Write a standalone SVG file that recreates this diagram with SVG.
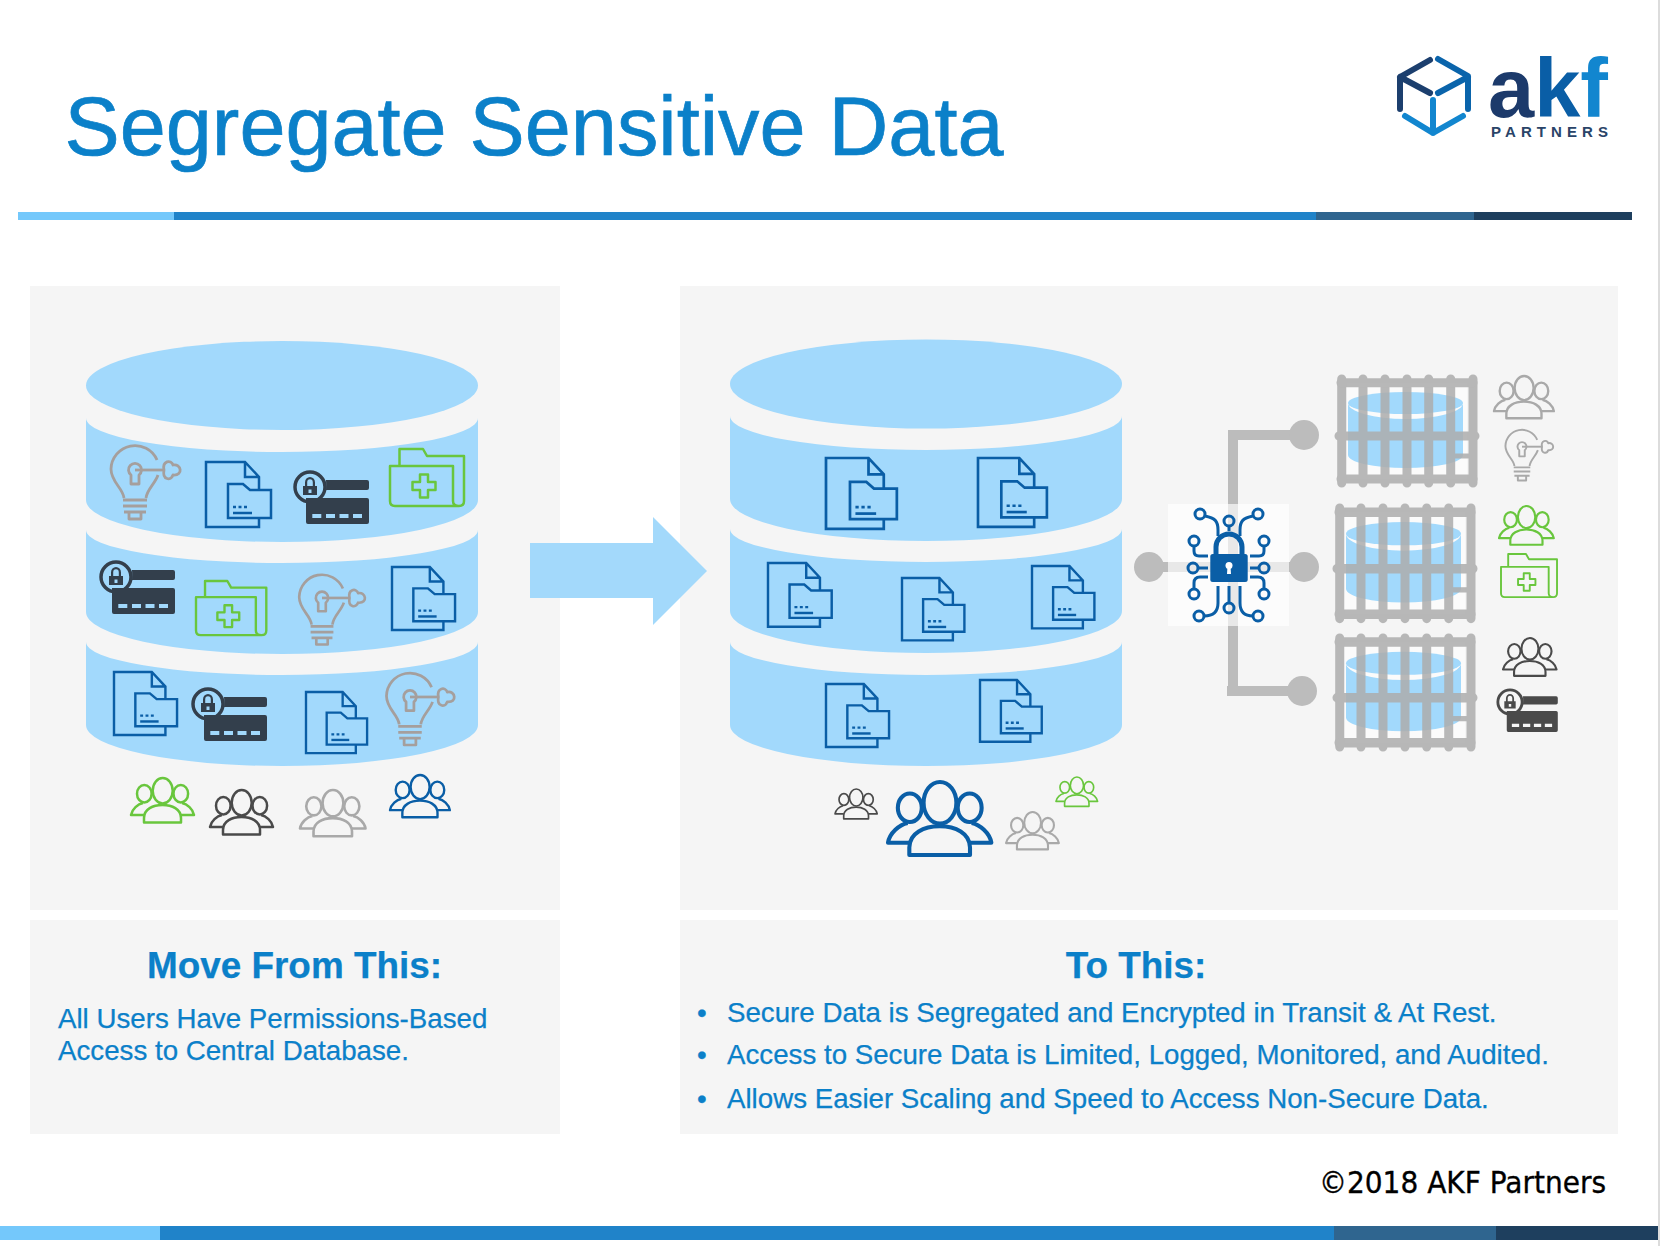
<svg xmlns="http://www.w3.org/2000/svg" width="1660" height="1246" viewBox="0 0 1660 1246">
<style>
.panel{fill:#f5f5f5}
.cyl{fill:#a2d9fc}
.ic{fill:none;stroke:currentColor;stroke-width:2.500;stroke-linejoin:round}
.sf{fill:currentColor;stroke:none;fill-rule:evenodd}
.blue{color:#0a5ea6}.green{color:#69c63d}.dark{color:#333f4c}.char{color:#4a4a4a}.gray{color:#a9a9a9}.taupe{color:#a59f9d}
.t{font-family:"Liberation Sans",Arial,sans-serif;fill:#0b80c9;stroke:#0b80c9;stroke-width:.25}
.b{font-weight:700;font-size:36.9px;text-anchor:middle}
.p{font-size:27.7px}
.bar{fill:none;stroke:#adadad;stroke-width:9;stroke-linecap:round}
.conn{fill:none;stroke:#bcbcbc;stroke-width:10}
.dot{fill:#bcbcbc}
.cir{fill:none;stroke:#0a5ea6;stroke-width:3}
.logo{fill:none;stroke-width:6;stroke-linecap:round;stroke-linejoin:round}
</style>
<defs>
<g id="doc" class="ic" style="stroke-linejoin:miter"><path d="M53 28V15L39 0H0V65H53V56M39 0V15H53"/><path d="M22 22H37L44 28H65V56H22Z"/><path d="M27 51H46"/><path d="M27 45h3M32.500 45h3M38 45h3"/></g>
<g id="folder" class="ic"><path d="M9.500 17V0H33L37 7H74V52Q74 57 69 57H5Q0 57 0 52V17H63V52Q63 57 69 57"/><path d="M30 25.500h8V33h7.500v8H38v7.500h-8V41h-7.500v-8H30Z"/></g>
<g id="card"><circle class="ic" style="stroke-width:3.500" r="15"/><path class="sf" d="M16 -7H57Q59 -7 59 -5V1Q59 3 57 3H16Q16.500 -2 16 -7Z"/><path class="sf" d="M-4 11H57Q59 11 59 13V35Q59 37 57 37H-2Q-4 37 -4 35ZM2.300 27v4h9v-4ZM16 27v4h9v-4ZM29.500 27v4h9v-4ZM43 27v4h9v-4Z"/><path class="sf" d="M-7 -1H7V8H-7ZM-1.500 2.500V6h3V2.500ZM-5 -1V-4.500A5 5.500 0 0 1 5 -4.500V-1H2.800V-4.500A2.800 3.300 0 0 0 -2.800 -4.500V-1Z"/></g>
<g id="bulb" class="ic" style="stroke-width:2.800"><path d="M-11 29C-12 19 -24 13 -24 0A24 24 0 0 1 22 -9M11 29C12 20 20 15 23 6"/><path d="M-12 31H12M-12 37H12M-11 43H11M-6 43V50H6V43"/><path d="M-4 15V6A6.500 6.500 0 1 1 4 6V15Z"/><path d="M0 1H29"/><path d="M29 1C27 -8 36 -10 38 -4C46 -6 49 7 38 6C36 12 27 11 29 1Z"/></g>
<g id="people" class="ic"><ellipse cx="31.700" cy="12.700" rx="10" ry="12.700"/><ellipse cx="13.300" cy="15.700" rx="7.300" ry="8.700"/><ellipse cx="49.800" cy="15.700" rx="7.300" ry="8.700"/><path d="M13 44.500V40C13 31 22 27 31.500 27C41 27 50 31 50 40V44.500Z"/><path d="M13 37H0C1 31 7 26 12 25M50 37H63C62 31 56 26 51 25"/></g>
<g id="cage">
<rect x="10" y="8" width="120" height="96" fill="#fbfbfb"/>
<ellipse class="cyl" cx="68.500" cy="28" rx="57.500" ry="11"/>
<path class="cyl" d="M11 28A57.500 16 0 0 0 126 28V80A57.500 13 0 0 1 11 80Z"/>
<g opacity=".85"><path class="bar" d="M4.700 4V108M26 4V108M48 4V108M70 4V108M91.700 4V108M113.700 4V108M136 4V108"/><path class="bar" d="M4 7.700H136M2 61H138M4 104H136"/><path class="bar" style="stroke-width:5;stroke-linecap:butt" d="M114 81H132"/></g>
</g>
</defs>

<rect width="1660" height="1246" fill="#fff"/>
<rect x="1658" y="0" width="2" height="1246" fill="#dcdcdc"/>

<g id="header">
<text class="t" x="64.500" y="155" font-size="82.800" style="stroke-width:.7">Segregate Sensitive Data</text>
<rect x="18" y="212" width="156" height="8" fill="#74c8fb"/><rect x="174" y="212" width="1142" height="8" fill="#2083c9"/><rect x="1316" y="212" width="158" height="8" fill="#2f658f"/><rect x="1474" y="212" width="158" height="8" fill="#1e3f5e"/>
</g>

<g id="logo">
<g class="logo"><path stroke="#1c3f6e" d="M1430 60L1400 77V109M1400 77L1430 93"/><path stroke="#0a64ab" d="M1438 59L1468 76V109M1468 77L1438 93"/><path stroke="#1286cf" d="M1433 100V133M1405 116L1433 133L1463 116"/></g>
<text x="1488" y="117" font-family="Liberation Sans,Arial,sans-serif" font-weight="700" font-size="83"><tspan fill="#1c3a6b">a</tspan><tspan fill="#0a5ea6">k</tspan><tspan fill="#1286cf">f</tspan></text>
<text x="1491" y="137" font-family="Liberation Sans,Arial,sans-serif" font-weight="700" font-size="15" fill="#2a4468" textLength="117">PARTNERS</text>
</g>

<rect id="panel-left" class="panel" x="30" y="286" width="530" height="624"/>
<rect id="panel-right" class="panel" x="680" y="286" width="938" height="624"/>
<rect id="panel-left-text" class="panel" x="30" y="920" width="530" height="214"/>
<rect id="panel-right-text" class="panel" x="680" y="920" width="938" height="214"/>

<g id="db-left">
<ellipse class="cyl" cx="282" cy="385.500" rx="196" ry="44.500"/>
<path class="cyl" d="M86 418A196 34 0 0 0 478 418V500A196 42 0 0 1 86 500Z"/>
<path class="cyl" d="M86 530A196 33 0 0 0 478 530V612A196 42 0 0 1 86 612Z"/>
<path class="cyl" d="M86 642A196 33 0 0 0 478 642V725A196 41 0 0 1 86 725Z"/>
</g>
<g id="db-left-icons">
<use href="#bulb" class="taupe" transform="translate(135 469)"/>
<use href="#doc" class="blue" transform="translate(206 462)"/>
<use href="#card" class="dark" transform="translate(310 487)"/>
<use href="#folder" class="green" transform="translate(390 449)"/>
<use href="#card" class="dark" transform="translate(116 577)"/>
<use href="#folder" class="green" transform="translate(196 581) scale(.95)"/>
<use href="#bulb" class="taupe" transform="translate(322 597) scale(.95)"/>
<use href="#doc" class="blue" transform="translate(392 567) scale(.97)"/>
<use href="#doc" class="blue" transform="translate(114 672) scale(.97)"/>
<use href="#card" class="dark" transform="translate(208 704)"/>
<use href="#doc" class="blue" transform="translate(306 692) scale(.94)"/>
<use href="#bulb" class="taupe" transform="translate(410 696) scale(.98)"/>
</g>
<g id="users-left">
<use href="#people" class="green" transform="translate(131 778)"/>
<use href="#people" class="char" transform="translate(210 790)"/>
<use href="#people" class="gray" transform="translate(300 790) scale(1.04)"/>
<use href="#people" class="blue" transform="translate(390 775) scale(.95)"/>
</g>

<g id="arrow"><path fill="#a3d9fb" d="M530 543H653V517L707 571L653 625V598H530Z"/></g>

<g id="db-right">
<ellipse class="cyl" cx="926" cy="384" rx="196" ry="44.500"/>
<path class="cyl" d="M730 416A196 34 0 0 0 1122 416V499A196 42 0 0 1 730 499Z"/>
<path class="cyl" d="M730 529A196 33 0 0 0 1122 529V611A196 42 0 0 1 730 611Z"/>
<path class="cyl" d="M730 642A196 33 0 0 0 1122 642V725A196 41 0 0 1 730 725Z"/>
</g>
<g id="db-right-icons">
<use href="#doc" class="blue" transform="translate(826 458) scale(1.09)"/>
<use href="#doc" class="blue" transform="translate(978 458) scale(1.06)"/>
<use href="#doc" class="blue" transform="translate(768 563) scale(.98)"/>
<use href="#doc" class="blue" transform="translate(902 578) scale(.96)"/>
<use href="#doc" class="blue" transform="translate(1032 566) scale(.96)"/>
<use href="#doc" class="blue" transform="translate(826 684) scale(.97)"/>
<use href="#doc" class="blue" transform="translate(980 680) scale(.95)"/>
</g>
<g id="users-right">
<use href="#people" class="char" transform="translate(835 789) scale(.67)"/>
<use href="#people" class="blue" transform="translate(888 782) scale(1.64)"/>
<use href="#people" class="gray" transform="translate(1006 812) scale(.84)"/>
<use href="#people" class="green" transform="translate(1056 777) scale(.66)"/>
</g>

<g id="connectors">
<path class="conn" d="M1304 435H1233V691M1302 691H1227M1149 567H1304"/>
<circle class="dot" cx="1304" cy="435" r="15"/>
<circle class="dot" cx="1149" cy="567" r="15"/>
<circle class="dot" cx="1304" cy="567" r="15"/>
<circle class="dot" cx="1302" cy="691" r="15"/>
</g>

<g id="encrypt-node">
<rect x="1168" y="504" width="121" height="122" fill="#fff" opacity=".65"/>
<g transform="translate(1229 563)">
<rect x="-18.700" y="-9" width="37.400" height="28" rx="2.500" fill="#0a5ea6"/>
<path d="M-13 -9V-16A13 13 0 0 1 13 -16V-9" fill="none" stroke="#0a5ea6" stroke-width="5"/>
<circle cy="2.500" r="3.500" fill="#fff"/><path d="M-1.500 3H1.500L2 11H-2Z" fill="#fff"/>
<g class="cir">
<circle cx="-29" cy="-49" r="5"/><circle cy="-42" r="5"/><circle cx="29" cy="-49" r="5"/>
<circle cx="-35" cy="-22" r="5"/><circle cx="35" cy="-22" r="5"/>
<circle cx="-36" cy="5" r="5"/><circle cx="35" cy="5" r="5"/>
<circle cx="-35" cy="31" r="5"/><circle cx="35" cy="31" r="5"/>
<circle cx="-30" cy="53" r="5"/><circle cy="45" r="5"/><circle cx="29" cy="53" r="5"/>
<path d="M-24 -47C-14 -45 -11 -42 -11 -33V-27M24 -47C14 -45 11 -42 11 -33V-27M0 -37V-32"/>
<path d="M-35 -17V-12Q-35 -7 -30 -7H-21M35 -17V-12Q35 -7 30 -7H21"/>
<path d="M-31 5H-21M30 5H21"/>
<path d="M-21 14H-29Q-35 14 -35 20V26M21 14H29Q35 14 35 20V26"/>
<path d="M-11 23V40Q-11 53 -25 53M11 23V40Q11 53 24 53M0 23V40"/>
</g>
</g>
</g>

<use id="cage-1" href="#cage" transform="translate(1337 375)"/>
<use id="cage-2" href="#cage" transform="translate(1335 504) scale(1 1.06)"/>
<use id="cage-3" href="#cage" transform="translate(1335 634) scale(1 1.045)"/>

<g id="access-1">
<use href="#people" class="gray" transform="translate(1494 376) scale(.95)"/>
<use href="#bulb" class="gray" transform="translate(1522 446) scale(.69)"/>
</g>
<g id="access-2">
<use href="#people" class="green" transform="translate(1499 506) scale(.87)"/>
<use href="#folder" class="green" transform="translate(1501 554) scale(.757)"/>
</g>
<g id="access-3">
<use href="#people" class="char" transform="translate(1503 638) scale(.85)"/>
<use href="#card" class="char" transform="translate(1510 702) scale(.81)"/>
</g>

<g id="text-left">
<text class="t b" x="294.500" y="978">Move From This:</text>
<text class="t p" x="58" y="1028">All Users Have Permissions-Based</text>
<text class="t p" x="58" y="1060">Access to Central Database.</text>
</g>
<g id="text-right">
<text class="t b" x="1136" y="978">To This:</text>
<text class="t p" x="697" y="1022">•</text><text class="t p" x="727" y="1022">Secure Data is Segregated and Encrypted in Transit &amp; At Rest.</text>
<text class="t p" x="697" y="1064">•</text><text class="t p" x="727" y="1064">Access to Secure Data is Limited, Logged, Monitored, and Audited.</text>
<text class="t p" x="697" y="1108">•</text><text class="t p" x="727" y="1108">Allows Easier Scaling and Speed to Access Non-Secure Data.</text>
</g>

<g id="footer">
<text x="1319" y="1193" font-family="DejaVu Sans,Verdana,sans-serif" font-size="30" fill="#000" stroke="#000" stroke-width=".35" textLength="287" lengthAdjust="spacingAndGlyphs">©2018 AKF Partners</text>
<rect x="0" y="1226" width="160" height="14" fill="#74c8fb"/><rect x="160" y="1226" width="1174" height="14" fill="#2083c9"/><rect x="1334" y="1226" width="162" height="14" fill="#2f658f"/><rect x="1496" y="1226" width="162" height="14" fill="#1e3f5e"/>
</g>
</svg>
